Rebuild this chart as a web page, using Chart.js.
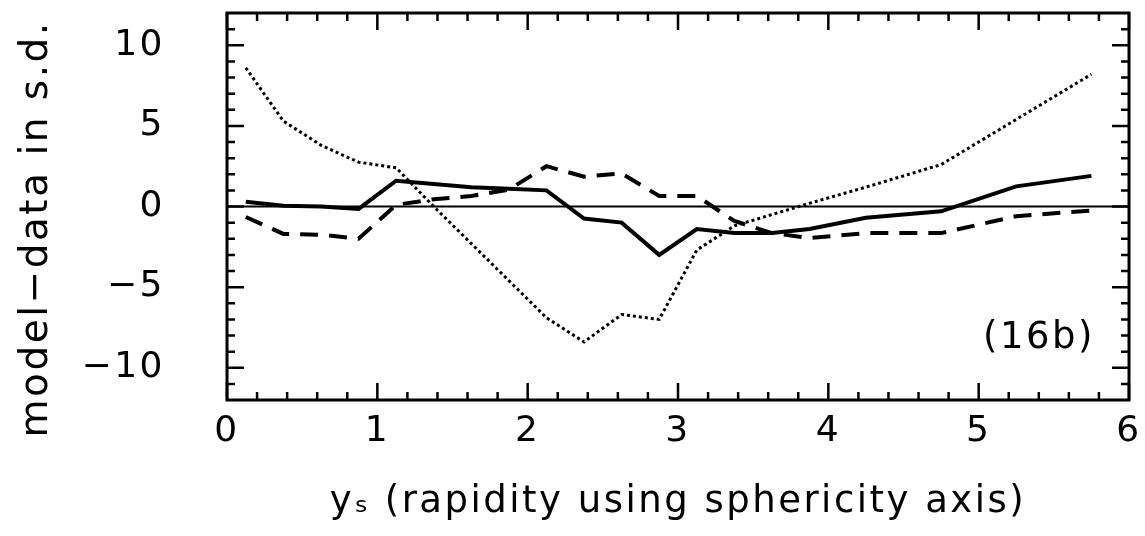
<!DOCTYPE html>
<html>
<head>
<meta charset="utf-8">
<script src="https://cdn.jsdelivr.net/npm/chart.js@4.4.1/dist/chart.umd.min.js"></script>
<style>
  html, body { margin: 0; padding: 0; background: #fff; }
  canvas { display: block; }
</style>
</head>
<body>
<canvas id="myChart" width="1145" height="536"></canvas>
<script>
// rapidity bins (bin centres)
var ysBins = [0.125, 0.375, 0.625, 0.875, 1.125, 1.375, 1.625, 1.875, 2.125, 2.375,
              2.625, 2.875, 3.125, 3.375, 3.625, 3.875, 4.25, 4.75, 5.25, 5.75];

// model - data, in standard deviations
var solidDiff  = [0.3, 0.05, 0.0, -0.15, 1.6, 1.4, 1.2, 1.1, 1.0, -0.75,
                  -1.0, -3.0, -1.4, -1.65, -1.65, -1.4, -0.7, -0.3, 1.25, 1.9];
var dashedDiff = [-0.65, -1.7, -1.75, -2.0, 0.1, 0.45, 0.65, 1.05, 2.5, 1.85,
                  2.05, 0.65, 0.65, -0.9, -1.65, -1.95, -1.65, -1.65, -0.6, -0.25];
var dottedDiff = [8.6, 5.3, 3.8, 2.75, 2.4, 0.0, -2.3, -4.6, -6.9, -8.4,
                  -6.7, -7.0, -2.7, -1.2, -0.5, 0.2, 1.2, 2.6, 5.4, 8.2];

var xTickValues = [0, 1, 2, 3, 4, 5, 6];
var yTickValues = [-10, -5, 0, 5, 10];
var refLevel = 0;
var panelLabel = '(16b)';

function toPoints(vals) {
  return ysBins.map(function (x, i) { return { x: x, y: vals[i] }; });
}

var fontFamily = '"DejaVu Sans", "Liberation Sans", sans-serif';

function spacing(chart) {
  chart.ctx.letterSpacing = '2.5px';
}

// frame, inward ticks on all four sides, zero line and panel label
var frameTicks = {
  id: 'frameTicks',
  beforeUpdate: spacing,
  beforeLayout: spacing,
  beforeDraw: spacing,
  afterDraw: function (chart) {
    var ctx = chart.ctx, a = chart.chartArea;
    var xs = chart.scales.x, ys = chart.scales.y;
    ctx.save();
    ctx.strokeStyle = '#000';
    ctx.lineCap = 'butt';

    ctx.lineWidth = 2;
    var y0 = ys.getPixelForValue(refLevel);
    ctx.beginPath();
    ctx.moveTo(a.left, y0);
    ctx.lineTo(a.right, y0);
    ctx.stroke();

    ctx.lineWidth = 2.5;
    ctx.beginPath();
    for (var i = 0; i <= 30; i++) {
      var px = xs.getPixelForValue(i * 0.2);
      var len = i % 5 === 0 ? 17 : 8;
      ctx.moveTo(px, a.bottom); ctx.lineTo(px, a.bottom - len);
      ctx.moveTo(px, a.top); ctx.lineTo(px, a.top + len);
    }
    for (var j = -11; j <= 11; j++) {
      var py = ys.getPixelForValue(j);
      var l2 = j % 5 === 0 ? 17 : 8;
      ctx.moveTo(a.left, py); ctx.lineTo(a.left + l2, py);
      ctx.moveTo(a.right, py); ctx.lineTo(a.right - l2, py);
    }
    ctx.stroke();

    ctx.lineWidth = 3;
    ctx.strokeRect(a.left, a.top, a.right - a.left, a.bottom - a.top);

    ctx.fillStyle = '#000';
    ctx.font = '37px ' + fontFamily;
    ctx.textAlign = 'right';
    ctx.textBaseline = 'middle';
    ctx.fillText(panelLabel, a.right - 34, a.bottom - 62);
    ctx.restore();
  }
};

var ctx = document.getElementById('myChart').getContext('2d');

var diffChart = new Chart(ctx, {
  type: 'line',
  data: {
    datasets: [{
      data: toPoints(solidDiff),
      borderColor: '#000',
      borderWidth: 4
    }, {
      data: toPoints(dashedDiff),
      borderColor: '#000',
      borderWidth: 4,
      borderDash: [18, 11]
    }, {
      data: toPoints(dottedDiff),
      borderColor: '#000',
      borderWidth: 3,
      borderDash: [3, 3]
    }]
  },
  options: {
    responsive: false,
    animation: false,
    events: [],
    elements: {
      point: { radius: 0 },
      line: { tension: 0, fill: false, borderCapStyle: 'butt' }
    },
    layout: { padding: { top: 13, right: 16, left: 0, bottom: 0 } },
    plugins: {
      legend: { display: false },
      tooltip: { enabled: false }
    },
    scales: {
      x: {
        type: 'linear',
        min: 0,
        max: 6,
        afterBuildTicks: function (s) {
          s.ticks = xTickValues.map(function (v) { return { value: v }; });
        },
        afterFit: function (s) {
          s.height = 136;
          s.paddingLeft = 0;
          s.paddingRight = 0;
        },
        grid: { display: false, drawTicks: false },
        border: { display: false },
        ticks: {
          color: '#000',
          padding: 10,
          maxRotation: 0,
          font: { family: fontFamily, size: 36 }
        },
        title: {
          display: true,
          text: 'yₛ (rapidity using sphericity axis)',
          color: '#000',
          padding: { top: 0, bottom: 11 },
          font: { family: fontFamily, size: 37 }
        }
      },
      y: {
        type: 'linear',
        min: -12,
        max: 12,
        afterBuildTicks: function (s) {
          s.ticks = yTickValues.map(function (v) { return { value: v }; });
        },
        afterFit: function (s) {
          s.width = 227;
          s.paddingTop = 0;
          s.paddingBottom = 0;
        },
        grid: { display: false, drawTicks: false },
        border: { display: false },
        ticks: {
          color: '#000',
          padding: 62,
          font: { family: fontFamily, size: 36 },
          callback: function (v) { return String(v).replace('-', '\u2212'); }
        },
        title: {
          display: true,
          // trailing no-break spaces push the text a little towards the bottom
          text: 'model\u2212data in s.d.\u00a0\u00a0\u00a0',
          color: '#000',
          padding: { top: 13, bottom: 0 },
          font: { family: fontFamily, size: 39 }
        }
      }
    }
  },
  plugins: [frameTicks]
});
</script>
</body>
</html>
